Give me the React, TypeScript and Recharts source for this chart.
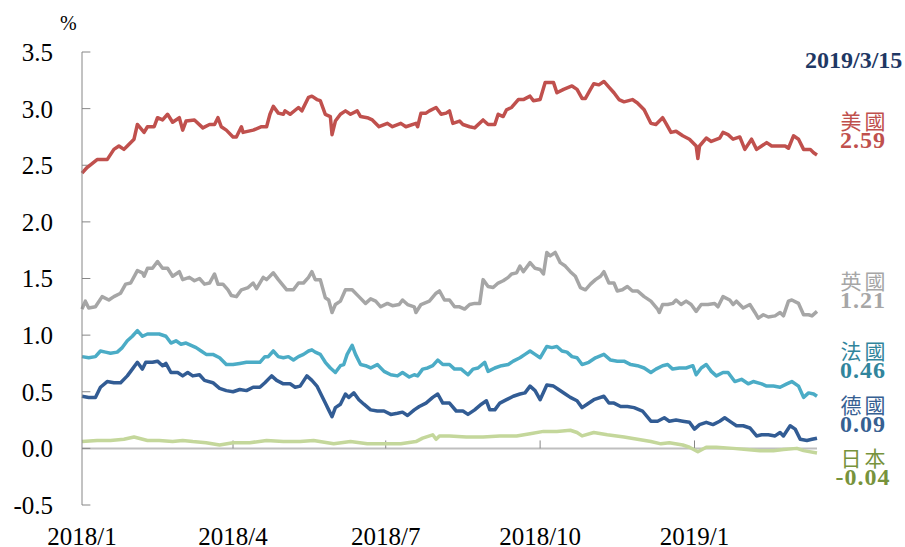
import React from 'react';
import { LineChart, Line, XAxis, YAxis, ReferenceLine } from 'recharts';

type Pt = [number, number];

// [days since 2018/1/1, 10-year yield %]
const US: Pt[] = [
  [0, 2.43], [3, 2.48], [9, 2.55], [15, 2.55], [19, 2.64], [22, 2.67], [25, 2.64], [27, 2.67], [31, 2.73], [33, 2.86],
  [37, 2.79], [39, 2.84], [43, 2.84], [45, 2.92], [48, 2.9], [51, 2.95], [54, 2.88], [58, 2.92], [60, 2.81], [62, 2.89],
  [67, 2.9], [72, 2.83], [76, 2.86], [79, 2.86], [81, 2.92], [83, 2.84], [86, 2.81], [90, 2.75], [92, 2.75], [95, 2.84],
  [96, 2.79], [102, 2.81], [107, 2.84], [110, 2.84], [112, 2.95], [114, 3.02], [117, 2.96], [120, 2.95], [121, 2.98], [124, 2.95],
  [129, 3.01], [131, 2.98], [135, 3.1], [137, 3.11], [140, 3.08], [142, 3.07], [145, 2.95], [148, 2.93], [149, 2.77], [151, 2.89],
  [154, 2.95], [157, 2.98], [160, 2.95], [164, 2.98], [166, 2.93], [170, 2.92], [173, 2.9], [177, 2.84], [182, 2.87], [185, 2.84],
  [190, 2.87], [193, 2.84], [199, 2.87], [200, 2.84], [202, 2.96], [205, 2.96], [207, 2.98], [211, 3.01], [214, 2.95], [217, 2.96],
  [219, 2.98], [221, 2.87], [225, 2.89], [227, 2.86], [231, 2.84], [234, 2.83], [239, 2.9], [242, 2.86], [246, 2.86], [248, 2.95],
  [251, 2.93], [253, 2.99], [256, 3.01], [260, 3.08], [263, 3.08], [267, 3.11], [269, 3.07], [273, 3.08], [276, 3.23], [281, 3.23],
  [283, 3.14], [287, 3.17], [292, 3.2], [295, 3.17], [298, 3.09], [300, 3.09], [303, 3.17], [305, 3.22], [308, 3.21], [311, 3.24],
  [314, 3.19], [317, 3.14], [320, 3.08], [323, 3.06], [328, 3.08], [331, 3.05], [335, 2.99], [339, 2.87], [342, 2.86], [346, 2.92],
  [348, 2.87], [351, 2.79], [354, 2.8], [358, 2.76], [362, 2.73], [366, 2.67], [367, 2.56], [368, 2.67], [372, 2.74], [375, 2.71],
  [380, 2.74], [382, 2.79], [385, 2.77], [388, 2.73], [392, 2.75], [395, 2.64], [399, 2.73], [402, 2.64], [405, 2.67], [408, 2.7],
  [411, 2.67], [415, 2.67], [419, 2.67], [421, 2.65], [424, 2.76], [427, 2.73], [430, 2.64], [434, 2.64], [436, 2.61], [438, 2.59],
];

const UK: Pt[] = [
  [0, 1.23], [2, 1.3], [4, 1.24], [8, 1.25], [12, 1.34], [16, 1.31], [19, 1.34], [23, 1.37], [26, 1.45], [29, 1.46],
  [33, 1.57], [36, 1.55], [37, 1.52], [39, 1.59], [42, 1.59], [45, 1.65], [48, 1.59], [51, 1.59], [54, 1.52], [58, 1.56],
  [60, 1.49], [64, 1.51], [67, 1.48], [70, 1.5], [73, 1.45], [76, 1.46], [79, 1.54], [81, 1.45], [84, 1.45], [87, 1.4],
  [89, 1.35], [92, 1.34], [95, 1.4], [99, 1.42], [102, 1.46], [104, 1.41], [108, 1.51], [110, 1.49], [114, 1.55], [117, 1.49],
  [122, 1.4], [126, 1.4], [129, 1.46], [132, 1.46], [135, 1.51], [137, 1.56], [139, 1.49], [142, 1.49], [145, 1.33], [147, 1.31],
  [149, 1.2], [151, 1.27], [154, 1.3], [157, 1.4], [161, 1.4], [165, 1.34], [169, 1.28], [172, 1.32], [175, 1.3], [178, 1.25],
  [182, 1.28], [185, 1.26], [189, 1.27], [191, 1.31], [194, 1.27], [198, 1.25], [199, 1.2], [202, 1.27], [207, 1.3], [211, 1.37],
  [213, 1.39], [216, 1.31], [219, 1.31], [222, 1.25], [225, 1.25], [228, 1.23], [231, 1.27], [234, 1.28], [237, 1.28], [239, 1.49],
  [242, 1.43], [245, 1.42], [248, 1.46], [251, 1.48], [254, 1.51], [256, 1.54], [259, 1.55], [261, 1.61], [263, 1.56], [267, 1.64],
  [270, 1.59], [273, 1.58], [275, 1.54], [277, 1.73], [279, 1.7], [282, 1.73], [285, 1.64], [288, 1.61], [291, 1.56], [294, 1.52],
  [297, 1.42], [300, 1.4], [303, 1.45], [306, 1.49], [309, 1.52], [311, 1.56], [314, 1.46], [317, 1.46], [319, 1.39], [322, 1.4],
  [325, 1.43], [328, 1.39], [331, 1.39], [335, 1.34], [339, 1.3], [343, 1.23], [344, 1.2], [346, 1.27], [349, 1.27], [352, 1.28],
  [354, 1.31], [357, 1.27], [360, 1.3], [363, 1.27], [366, 1.21], [369, 1.27], [373, 1.27], [377, 1.28], [379, 1.25], [382, 1.34],
  [386, 1.31], [388, 1.27], [390, 1.3], [394, 1.24], [398, 1.27], [401, 1.2], [403, 1.15], [406, 1.18], [409, 1.16], [413, 1.17],
  [416, 1.2], [418, 1.17], [421, 1.3], [423, 1.31], [427, 1.28], [430, 1.18], [433, 1.18], [435, 1.17], [438, 1.21],
];

const FR: Pt[] = [
  [0, 0.81], [4, 0.8], [8, 0.81], [11, 0.86], [14, 0.85], [17, 0.84], [21, 0.85], [24, 0.89], [27, 0.95], [30, 0.99],
  [33, 1.04], [36, 0.99], [39, 1.01], [43, 1.01], [46, 1.01], [50, 0.99], [53, 0.93], [56, 0.95], [59, 0.92], [62, 0.93],
  [65, 0.91], [68, 0.89], [71, 0.86], [74, 0.83], [78, 0.83], [82, 0.8], [86, 0.74], [90, 0.74], [94, 0.75], [98, 0.76],
  [102, 0.76], [106, 0.76], [109, 0.81], [111, 0.81], [114, 0.86], [117, 0.81], [120, 0.8], [123, 0.81], [126, 0.78], [129, 0.81],
  [132, 0.83], [135, 0.86], [137, 0.87], [139, 0.85], [142, 0.83], [145, 0.76], [148, 0.71], [151, 0.67], [154, 0.73], [156, 0.74],
  [158, 0.83], [161, 0.91], [163, 0.83], [166, 0.74], [169, 0.73], [172, 0.71], [176, 0.74], [180, 0.68], [184, 0.65], [188, 0.64],
  [191, 0.67], [195, 0.63], [198, 0.65], [200, 0.64], [203, 0.7], [206, 0.71], [209, 0.73], [212, 0.78], [215, 0.74], [219, 0.74],
  [222, 0.7], [226, 0.7], [230, 0.65], [233, 0.7], [236, 0.71], [240, 0.76], [242, 0.68], [246, 0.71], [250, 0.73], [254, 0.74],
  [257, 0.77], [261, 0.8], [264, 0.83], [267, 0.86], [270, 0.83], [273, 0.8], [277, 0.9], [280, 0.89], [283, 0.9], [286, 0.86],
  [289, 0.85], [292, 0.81], [295, 0.8], [298, 0.74], [302, 0.76], [306, 0.8], [311, 0.83], [315, 0.78], [319, 0.77], [323, 0.77],
  [327, 0.74], [331, 0.73], [335, 0.71], [339, 0.67], [342, 0.7], [346, 0.73], [349, 0.74], [352, 0.7], [356, 0.71], [360, 0.71],
  [364, 0.73], [366, 0.65], [369, 0.71], [372, 0.74], [375, 0.68], [378, 0.64], [382, 0.67], [385, 0.67], [389, 0.59], [393, 0.61],
  [397, 0.57], [400, 0.59], [405, 0.57], [408, 0.55], [412, 0.55], [416, 0.54], [420, 0.57], [423, 0.59], [427, 0.55], [430, 0.45],
  [433, 0.49], [436, 0.48], [438, 0.46],
];

const DE: Pt[] = [
  [0, 0.46], [4, 0.45], [8, 0.45], [11, 0.54], [15, 0.59], [19, 0.58], [23, 0.58], [27, 0.64], [30, 0.7], [33, 0.76],
  [36, 0.7], [38, 0.76], [42, 0.76], [45, 0.77], [48, 0.73], [50, 0.75], [53, 0.67], [57, 0.67], [60, 0.64], [63, 0.67],
  [66, 0.64], [70, 0.65], [73, 0.6], [78, 0.58], [82, 0.53], [86, 0.51], [90, 0.5], [94, 0.52], [98, 0.51], [102, 0.54],
  [106, 0.54], [109, 0.58], [113, 0.64], [116, 0.6], [120, 0.57], [124, 0.57], [127, 0.54], [130, 0.55], [134, 0.64], [137, 0.6],
  [140, 0.55], [143, 0.46], [145, 0.4], [147, 0.34], [149, 0.28], [151, 0.36], [154, 0.39], [157, 0.48], [159, 0.45], [162, 0.49],
  [165, 0.43], [168, 0.39], [172, 0.34], [176, 0.33], [180, 0.33], [184, 0.3], [188, 0.31], [191, 0.32], [194, 0.29], [198, 0.34],
  [201, 0.37], [205, 0.4], [209, 0.45], [212, 0.48], [215, 0.4], [219, 0.4], [223, 0.33], [227, 0.33], [230, 0.3], [234, 0.34],
  [238, 0.39], [241, 0.42], [243, 0.34], [246, 0.34], [249, 0.4], [253, 0.43], [257, 0.46], [261, 0.48], [264, 0.49], [267, 0.55],
  [270, 0.51], [273, 0.43], [277, 0.56], [281, 0.55], [284, 0.52], [288, 0.48], [291, 0.45], [295, 0.42], [298, 0.36], [301, 0.39],
  [305, 0.43], [311, 0.46], [314, 0.4], [317, 0.4], [321, 0.37], [325, 0.37], [329, 0.36], [334, 0.33], [339, 0.24], [343, 0.24],
  [347, 0.27], [350, 0.24], [354, 0.25], [358, 0.24], [362, 0.23], [365, 0.17], [368, 0.21], [372, 0.23], [376, 0.21], [380, 0.24],
  [383, 0.27], [387, 0.23], [390, 0.2], [394, 0.2], [398, 0.18], [402, 0.11], [405, 0.12], [409, 0.12], [413, 0.11], [416, 0.14],
  [418, 0.11], [422, 0.2], [425, 0.17], [428, 0.08], [432, 0.07], [435, 0.08], [438, 0.09],
];

const JP: Pt[] = [
  [0, 0.06], [9, 0.07], [17, 0.07], [25, 0.08], [31, 0.1], [39, 0.07], [46, 0.07], [54, 0.06], [60, 0.07], [66, 0.06],
  [74, 0.05], [82, 0.03], [90, 0.05], [100, 0.05], [110, 0.07], [120, 0.06], [130, 0.06], [138, 0.07], [150, 0.04], [160, 0.06],
  [170, 0.04], [180, 0.04], [190, 0.04], [199, 0.06], [203, 0.09], [209, 0.12], [211, 0.08], [213, 0.11], [219, 0.11], [229, 0.1],
  [239, 0.1], [249, 0.11], [259, 0.11], [267, 0.13], [275, 0.15], [283, 0.15], [291, 0.16], [295, 0.14], [298, 0.11], [305, 0.14],
  [313, 0.12], [323, 0.1], [331, 0.08], [339, 0.06], [345, 0.04], [350, 0.05], [358, 0.03], [362, 0.01], [367, -0.03], [372, 0.01],
  [378, 0.01], [388, 0.0], [396, -0.01], [404, -0.02], [412, -0.02], [418, -0.01], [426, 0.0], [430, -0.02], [438, -0.04],
];

const TICK_DAYS = [0, 90, 181, 273, 365];
const TICK_LABELS = ['2018/1', '2018/4', '2018/7', '2018/10', '2019/1'];
const Y_TICKS = [-0.5, 0, 0.5, 1, 1.5, 2, 2.5, 3, 3.5];
const END_DATE = '2019/3/15';

const SERIES = [
  { name: '美國', pts: US, color: '#C0504D', text: '#C0504D', top: 110 },
  { name: '英國', pts: UK, color: '#A6A6A6', text: '#A6A6A6', top: 270 },
  { name: '法國', pts: FR, color: '#4BACC6', text: '#31859C', top: 340 },
  { name: '德國', pts: DE, color: '#325C94', text: '#366092', top: 394 },
  { name: '日本', pts: JP, color: '#C4D79B', text: '#77933C', top: 447 },
];

const SERIF = '"Liberation Serif", "Times New Roman", serif';
const CJK = '"Noto Sans CJK TC", "Noto Sans CJK SC", sans-serif';
const AXIS = '#868686';

const toRows = (pts: Pt[]) => pts.map(([day, v]) => ({ day, v }));

export default function App() {
  return (
    <div style={{ position: 'absolute', left: 0, top: 0, width: 905, height: 547, background: '#fff', fontFamily: SERIF }}>
      <LineChart width={905} height={547} margin={{ top: 52, right: 88, bottom: 0, left: 0 }}>
        <XAxis
          dataKey="day"
          type="number"
          domain={[0, 438]}
          ticks={TICK_DAYS}
          interval={0}
          tickFormatter={(d: number) => TICK_LABELS[TICK_DAYS.indexOf(d)]}
          axisLine={false}
          tickLine={false}
          tickSize={0}
          tickMargin={22}
          height={42}
          tick={{ fontSize: 25, fill: '#000', fontFamily: SERIF }}
        />
        <YAxis
          domain={[-0.5, 3.5]}
          ticks={Y_TICKS}
          interval={0}
          width={82}
          tickFormatter={(v: number) => v.toFixed(1)}
          axisLine={{ stroke: AXIS, strokeWidth: 1 }}
          tickLine={false}
          tickSize={0}
          tickMargin={29}
          tick={{ fontSize: 25, fill: '#000', fontFamily: SERIF }}
        />
        <ReferenceLine y={0} stroke="#BFBFBF" strokeWidth={2} />
        {Y_TICKS.map((v) => (
          <ReferenceLine key={'y' + v} segment={[{ x: 0, y: v }, { x: 5, y: v }]} stroke={AXIS} />
        ))}
        {TICK_DAYS.slice(1).map((d) => (
          <ReferenceLine key={'x' + d} segment={[{ x: d, y: 0 }, { x: d, y: 0.07 }]} stroke={AXIS} />
        ))}
        {SERIES.slice().reverse().map((s) => (
          <Line
            key={s.name}
            data={toRows(s.pts)}
            dataKey="v"
            type="linear"
            stroke={s.color}
            strokeWidth={3.5}
            strokeLinejoin="round"
            dot={false}
            activeDot={false}
            isAnimationActive={false}
          />
        ))}
      </LineChart>

      <div style={{ position: 'absolute', left: 60, top: 13, fontSize: 20, lineHeight: '20px', color: '#000' }}>%</div>
      <div style={{ position: 'absolute', left: 805, top: 48, fontSize: 24, lineHeight: '24px', fontWeight: 'bold', color: '#1F3864' }}>
        {END_DATE}
      </div>
      {SERIES.map((s) => (
        <div key={s.name} style={{ position: 'absolute', left: 823, top: s.top, width: 80, textAlign: 'center', color: s.text }}>
          <div style={{ fontFamily: CJK, fontSize: 21, lineHeight: '20px', height: 20, letterSpacing: 3, paddingLeft: 3 }}>{s.name}</div>
          <div style={{ fontSize: 24, lineHeight: '20px', height: 20, fontWeight: 'bold', letterSpacing: 1 }}>
            {s.pts[s.pts.length - 1][1].toFixed(2)}
          </div>
        </div>
      ))}
    </div>
  );
}
